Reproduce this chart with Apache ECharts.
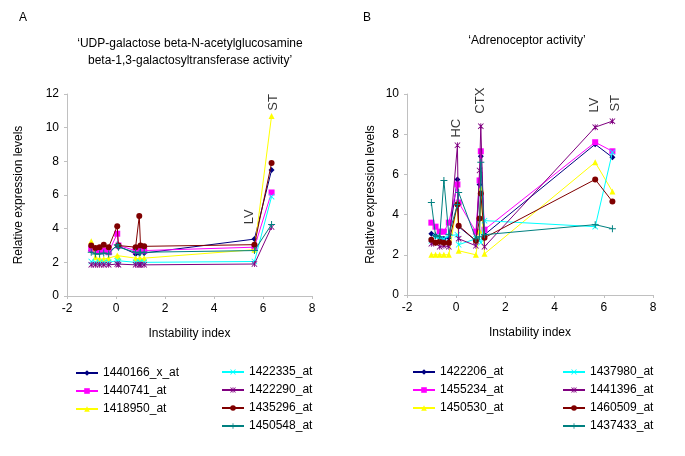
<!DOCTYPE html>
<html>
<head>
<meta charset="utf-8">
<script src="https://cdn.jsdelivr.net/npm/echarts@6/dist/echarts.min.js"></script>
<style>html,body{margin:0;padding:0;background:#fff}#c{width:685px;height:456px}</style>
</head>
<body>
<div id="c"></div>
<script>
// Instability index of each tissue (x positions)
const instability = [-1.01, -0.84, -0.67, -0.5, -0.3, 0.05, 0.1, 0.8, 0.95, 1.0, 1.15, 5.65, 6.35];

// Panel A series
const namesA = ['1440166_x_at', '1440741_at', '1418950_at', '1422335_at', '1422290_at', '1435296_at', '1450548_at'];
const a_1440166 = [2.7, 2.6, 2.6, 2.65, 2.6, 3.0, 2.9, 2.5, 2.55, 2.6, 2.55, 3.38, 7.48];
const a_1440741 = [2.8, 2.7, 2.65, 2.7, 2.6, 3.7, 3.0, 2.7, 2.75, 2.7, 2.7, 2.9, 6.15];
const a_1418950 = [3.25, 2.3, 2.2, 2.2, 2.25, 2.4, 2.3, 2.25, 2.2, 2.2, 2.25, 2.75, 10.7];
const a_1422335 = [2.05, 2.0, 2.0, 2.0, 2.0, 2.1, 2.05, 2.0, 2.0, 2.0, 2.0, 2.05, 5.9];
const a_1422290 = [1.85, 1.85, 1.85, 1.85, 1.85, 1.9, 1.85, 1.85, 1.85, 1.85, 1.85, 1.9, 4.1];
const a_1435296 = [3.0, 2.85, 2.9, 3.05, 2.9, 4.15, 3.0, 2.9, 4.75, 3.0, 2.95, 3.05, 7.9];
const a_1450548 = [2.6, 2.5, 2.5, 2.55, 2.5, 3.05, 2.9, 2.6, 2.55, 2.6, 2.6, 2.7, 4.25];
const valuesA = [a_1440166, a_1440741, a_1418950, a_1422335, a_1422290, a_1435296, a_1450548];

// Panel B series
const namesB = ['1422206_at', '1455234_at', '1450530_at', '1437980_at', '1441396_at', '1460509_at', '1437433_at'];
const b_1422206 = [3.05, 2.95, 2.85, 2.8, 2.85, 5.75, 3.4, 2.7, 5.5, 6.9, 3.0, 7.5, 6.85];
const b_1455234 = [3.6, 3.4, 3.15, 3.15, 3.6, 5.5, 4.6, 3.15, 5.7, 7.15, 3.25, 7.6, 7.15];
const b_1450530 = [2.0, 2.0, 2.0, 2.0, 2.0, 4.6, 2.2, 2.0, 3.2, 5.3, 2.05, 6.6, 5.15];
const b_1437980 = [2.7, 2.9, 2.8, 2.8, 2.95, 3.0, 2.5, 2.8, 2.7, 2.6, 3.7, 3.4, 7.1];
const b_1441396 = [2.55, 2.6, 2.4, 2.45, 2.4, 7.45, 2.8, 2.45, 6.2, 8.4, 2.4, 8.35, 8.65];
const b_1460509 = [2.75, 2.6, 2.65, 2.6, 2.6, 4.5, 3.45, 2.7, 3.8, 5.05, 2.85, 5.75, 4.65];
const b_1437433 = [4.6, 2.95, 2.9, 5.7, 3.0, 4.5, 5.1, 2.8, 2.9, 6.6, 3.0, 3.5, 3.3];
const valuesB = [b_1422206, b_1455234, b_1450530, b_1437980, b_1441396, b_1460509, b_1437433];

// Tissue annotations [text, x, y]
const annotA = [['LV', 5.44, 4.7], ['ST', 6.42, 11.5]];
const annotB = [['HC', 0.0, 8.3], ['CTX', 0.98, 9.67], ['LV', 5.63, 9.45], ['ST', 6.48, 9.54]];

// Axis ticks
const xTicks = {min: -2, max: 8, interval: 2};
const yTicksA = {min: 0, max: 12, interval: 2};
const yTicksB = {min: 0, max: 10, interval: 2};

const colors = ['#000080', '#FF00FF', '#FFFF00', '#00FFFF', '#800080', '#800000', '#008080'];
const crossP = 'path://M0,1 L1,0 L5,4 L9,0 L10,1 L6,5 L10,9 L9,10 L5,6 L1,10 L0,9 L4,5 Z';
const plusP = 'path://M4.3,0 H5.7 V4.3 H10 V5.7 H5.7 V10 H4.3 V5.7 H0 V4.3 H4.3 Z';
const starP = 'path://M0,1 L1,0 L5,4 L9,0 L10,1 L6,5 L10,9 L9,10 L5,6 L1,10 L0,9 L4,5 Z M4.3,0 H5.7 V10 H4.3 Z';
const symbols = ['diamond', 'rect', 'triangle', crossP, starP, 'circle', plusP];
const sizes = [6, 6, 6, 6, 6, 6, 7];

const FONT = '"Liberation Sans", Arial, sans-serif';

function mkSeries(names, values, idx) {
  return names.map((n, i) => ({
    name: n, type: 'line', xAxisIndex: idx, yAxisIndex: idx,
    data: instability.map((x, k) => [x, values[i][k]]),
    symbol: symbols[i], symbolSize: sizes[i], showAllSymbol: true,
    lineStyle: {color: colors[i], width: 1},
    itemStyle: {color: colors[i]},
    animation: false, z: 2 + i
  }));
}
function mkAnnot(list, idx) {
  return {
    type: 'scatter', xAxisIndex: idx, yAxisIndex: idx, symbolSize: 0, silent: true,
    data: list.map(a => ({value: [a[1], a[2]], name: a[0]})),
    label: {show: true, position: 'inside', rotate: 90, formatter: p => p.name,
      color: '#000', fontSize: 13, fontFamily: FONT},
    animation: false, z: 20
  };
}
function xAx(idx) {
  return Object.assign({type: 'value', gridIndex: idx, name: 'Instability index', nameLocation: 'middle', nameGap: 32,
    nameTextStyle: {color: '#000', fontSize: 12, fontFamily: FONT},
    axisLine: {onZero: false, lineStyle: {color: '#c0c0c0'}},
    axisTick: {show: true, length: 3, lineStyle: {color: '#c0c0c0'}},
    axisLabel: {color: '#000', fontSize: 12, fontFamily: FONT, margin: 7},
    splitLine: {show: false}}, xTicks);
}
function yAx(idx, t, gap) {
  return Object.assign({type: 'value', gridIndex: idx, name: 'Relative expression levels', nameLocation: 'middle', nameGap: gap,
    nameTextStyle: {color: '#000', fontSize: 12, fontFamily: FONT},
    axisLine: {show: true, onZero: false, lineStyle: {color: '#c0c0c0'}},
    axisTick: {show: true, length: 3, lineStyle: {color: '#c0c0c0'}},
    axisLabel: {color: '#000', fontSize: 12, fontFamily: FONT, margin: 8},
    splitLine: {show: false}}, t);
}
function mkLegend(data, left, top) {
  return {data: data, orient: 'vertical', left: left, top: top, itemWidth: 22, itemHeight: 7, itemGap: 6,
    textStyle: {color: '#000', fontSize: 12, fontFamily: FONT}, selectedMode: false};
}

const chart = echarts.init(document.getElementById('c'), null, {renderer: 'canvas'});
chart.setOption({
  backgroundColor: '#fff',
  animation: false,
  grid: [
    {left: 67, top: 94, width: 245, height: 202},
    {left: 407, top: 94, width: 246, height: 201}
  ],
  xAxis: [xAx(0), xAx(1)],
  yAxis: [yAx(0, yTicksA, 42), yAx(1, yTicksB, 30)],
  legend: [
    mkLegend(namesA.slice(0, 3), 70, 362),
    mkLegend(namesA.slice(3), 216, 361),
    mkLegend(namesB.slice(0, 3), 407, 361),
    mkLegend(namesB.slice(3), 557, 361)
  ],
  graphic: [
    {type: 'text', left: 19, top: 12, style: {text: 'A', fontSize: 12, fontFamily: FONT, fill: '#000'}},
    {type: 'text', left: 363, top: 12, style: {text: 'B', fontSize: 12, fontFamily: FONT, fill: '#000'}},
    {type: 'text', x: 190, y: 35, style: {text: '\u2018UDP-galactose beta-N-acetylglucosamine\nbeta-1,3-galactosyltransferase activity\u2019', fontSize: 12, lineHeight: 17, fontFamily: FONT, fill: '#000', align: 'center'}},
    {type: 'text', x: 527, y: 35, style: {text: '\u2018Adrenoceptor activity\u2019', fontSize: 12, fontFamily: FONT, fill: '#000', align: 'center'}}
  ],
  series: [].concat(mkSeries(namesA, valuesA, 0), mkSeries(namesB, valuesB, 1), [mkAnnot(annotA, 0), mkAnnot(annotB, 1)])
});
</script>
</body>
</html>
